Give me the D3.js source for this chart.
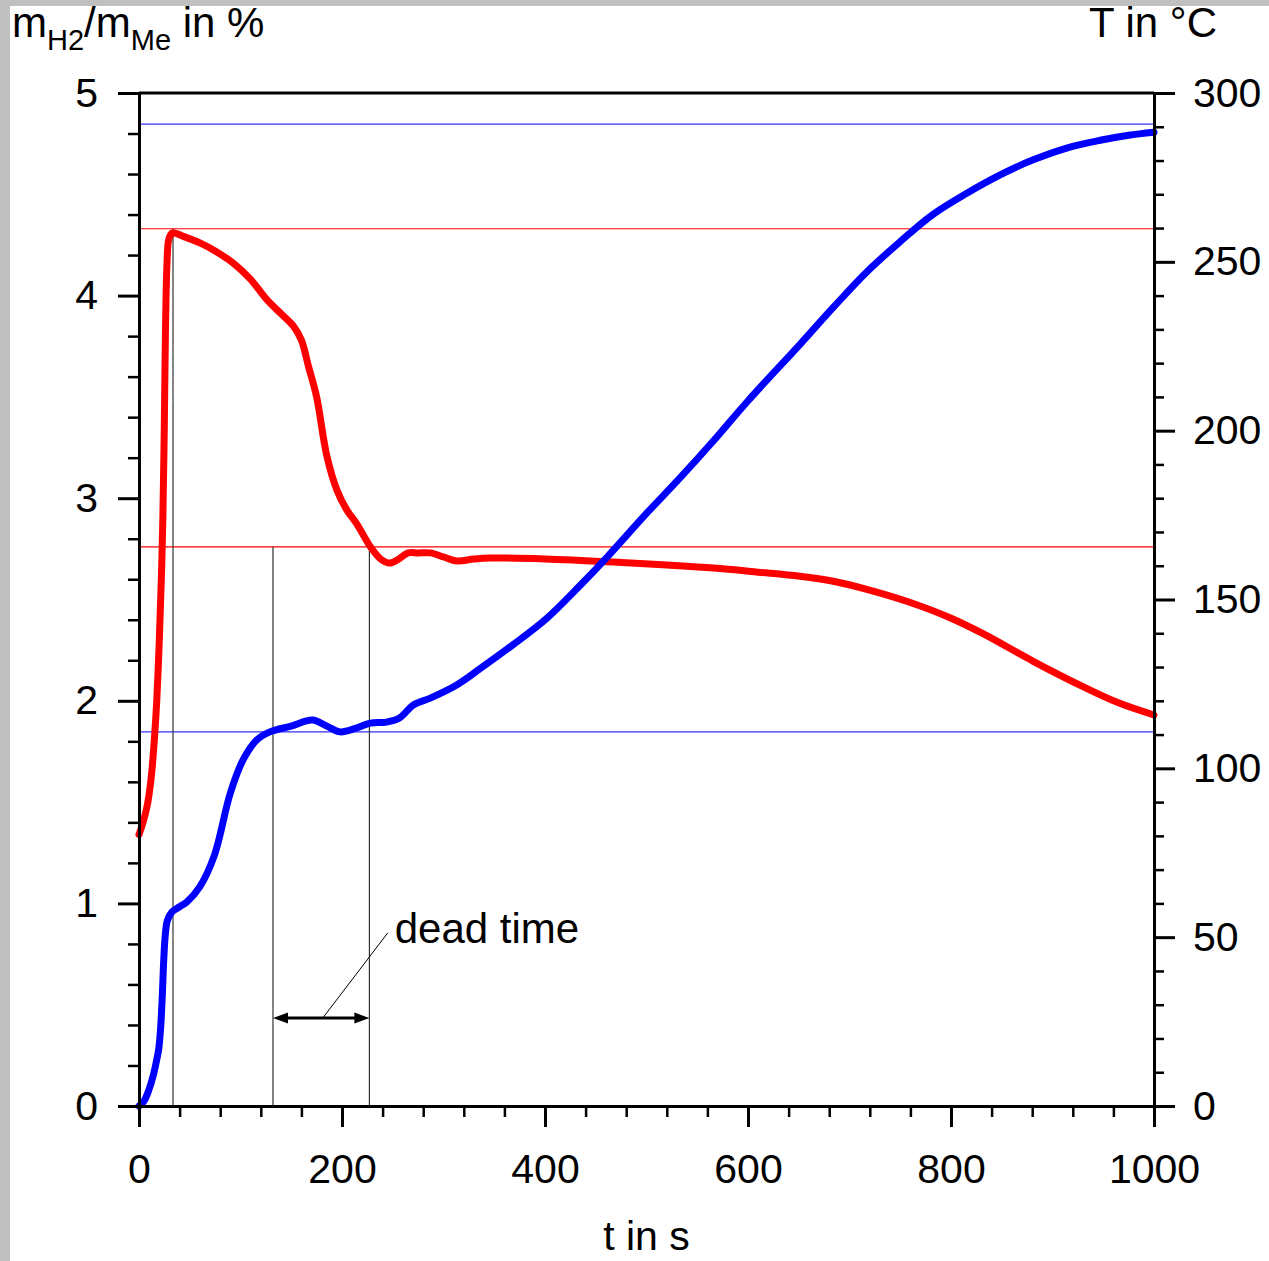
<!DOCTYPE html>
<html>
<head>
<meta charset="utf-8">
<script src="https://cdn.jsdelivr.net/npm/d3@7"></script>
<style>
	body { margin: 0; background: #c0c0c0; }
	svg { display: block; }
	text { font-family: "Liberation Sans", Arial, sans-serif; fill: #000; }
</style>
</head>
<body>
<svg id="chart"></svg>
<script>
// hydrogen loading (left axis, %)
const LOAD_TIME = [0, 4, 8, 12, 15, 17.5, 20, 22, 23.5, 24.8, 26, 27.5, 29, 31, 33, 45, 60, 75, 93, 110, 126, 140, 152, 160, 167, 175, 185, 195, 205, 215, 228, 238, 247, 256, 265, 275, 287, 300, 313, 330, 346, 400, 467, 520, 566, 610, 651, 684, 717, 757, 799, 832, 881, 930, 965, 1000];
const LOAD_VALUE = [1.34, 1.4, 1.48, 1.62, 1.8, 2.0, 2.3, 2.6, 2.9, 3.3, 3.8, 4.15, 4.27, 4.3, 4.31, 4.29, 4.26, 4.22, 4.16, 4.08, 3.98, 3.91, 3.85, 3.78, 3.65, 3.5, 3.21, 3.04, 2.94, 2.87, 2.76, 2.7, 2.68, 2.7, 2.73, 2.73, 2.73, 2.71, 2.69, 2.7, 2.705, 2.7, 2.685, 2.67, 2.655, 2.635, 2.615, 2.59, 2.55, 2.49, 2.41, 2.33, 2.195, 2.07, 1.99, 1.93];

// temperature (right axis, °C)
const TEMP_TIME = [0, 5, 10, 14, 17, 19.5, 21.5, 23, 24.5, 26, 28, 32.5, 40, 47, 60, 74, 90, 102.5, 116, 129, 150, 171, 185, 198, 213, 228, 244, 257, 270, 287, 313, 336, 368, 402, 434, 461, 500, 533, 566, 599, 651, 684, 717, 750, 782, 816, 848, 881, 914, 947, 975, 1000];
const TEMP_VALUE = [0, 1.5, 5, 9, 13, 17, 24, 33, 44, 51, 55, 57.5, 59, 60.4, 65, 74, 92.7, 102.5, 108.4, 110.8, 112.5, 114.3, 112.5, 110.8, 111.8, 113.4, 113.7, 115, 118.7, 120.8, 124.7, 129.5, 136.5, 144.5, 154, 162.5, 175.5, 186, 197, 208.5, 225.5, 236.5, 247, 256, 264, 270.4, 275.7, 280.2, 283.7, 286, 287.5, 288.4];

const X_TICKS = [0, 200, 400, 600, 800, 1000];
const LEFT_TICKS = [0, 1, 2, 3, 4, 5];
const RIGHT_TICKS = [0, 50, 100, 150, 200, 250, 300];

// reference lines and annotation
const REF_LOAD = [4.33, 2.76];
const REF_TEMP = [290.8, 110.8];
const PEAK_TIME = 33.5;
const DEAD_TIME = [132, 227];
const ARROW_LOAD = 0.434;
const LEADER_FROM = [181, 0.434];
const LEADER_TO = [245, 0.854];
const LABEL_POS = [252, 0.805];

const SVG_WIDTH = 1269;
const SVG_HEIGHT = 1261;
const MARGIN = { top: 93, right: 115, bottom: 155, left: 139 };
const WIDTH = SVG_WIDTH - MARGIN.left - MARGIN.right;
const HEIGHT = SVG_HEIGHT - MARGIN.top - MARGIN.bottom;
const FONT = 41;

const x = d3.scaleLinear().domain([0, 1000]).range([0, WIDTH]);
const yL = d3.scaleLinear().domain([0, 5]).range([HEIGHT, 0]);
const yR = d3.scaleLinear().domain([0, 300]).range([HEIGHT, 0]);

const root = d3.select('#chart')
	.attr('width', SVG_WIDTH)
	.attr('height', SVG_HEIGHT);

root.append('rect')
	.attr('width', SVG_WIDTH).attr('height', SVG_HEIGHT)
	.attr('fill', '#c0c0c0');
root.append('rect')
	.attr('x', 10).attr('y', 6)
	.attr('width', SVG_WIDTH - 10).attr('height', SVG_HEIGHT - 6)
	.attr('fill', '#fff');

const svg = root.append('g')
	.attr('transform', 'translate(' + MARGIN.left + ', ' + MARGIN.top + ')');

function minorTicks(step, max, majors) {
	return d3.range(0, max + step / 2, step)
		.map(v => +v.toFixed(4))
		.filter(v => !majors.some(m => Math.abs(m - v) < 1e-6));
}

function styleAxis(g, width) {
	g.select('.domain').attr('stroke', '#000').attr('stroke-width', 3);
	g.selectAll('.tick line').attr('stroke', '#000').attr('stroke-width', width);
	g.selectAll('.tick text')
		.style('font-family', '"Liberation Sans", Arial, sans-serif')
		.style('font-size', FONT + 'px')
		.attr('fill', '#000');
}

// reference lines
svg.selectAll('.ref-load')
	.data(REF_LOAD)
	.enter()
	.append('line')
		.attr('x1', x(0)).attr('x2', x(1000))
		.attr('y1', d => yL(d)).attr('y2', d => yL(d))
		.attr('stroke', '#ff0000')
		.attr('stroke-width', 1.2);

svg.selectAll('.ref-temp')
	.data(REF_TEMP)
	.enter()
	.append('line')
		.attr('x1', x(0)).attr('x2', x(1000))
		.attr('y1', d => yR(d)).attr('y2', d => yR(d))
		.attr('stroke', '#3030ff')
		.attr('stroke-width', 1.2);

// vertical markers
const vlines = [
	{ t: PEAK_TIME, top: REF_LOAD[0] },
	{ t: DEAD_TIME[0], top: REF_LOAD[1] },
	{ t: DEAD_TIME[1], top: REF_LOAD[1] }
];
svg.selectAll('.vline')
	.data(vlines)
	.enter()
	.append('line')
		.attr('x1', d => x(d.t)).attr('x2', d => x(d.t))
		.attr('y1', d => yL(d.top)).attr('y2', yL(0))
		.attr('stroke', '#333')
		.attr('stroke-width', 1.2);

// curves
const loadData = LOAD_TIME.map((t, i) => ({ t: t, v: LOAD_VALUE[i] }));
const tempData = TEMP_TIME.map((t, i) => ({ t: t, v: TEMP_VALUE[i] }));

svg.append('path')
	.attr('fill', 'none')
	.attr('stroke', '#ff0000')
	.attr('stroke-width', 7)
	.attr('stroke-linecap', 'round')
	.attr('stroke-linejoin', 'round')
	.attr('d', d3.line()
		.x(d => x(d.t))
		.y(d => yL(d.v))
		.curve(d3.curveCatmullRom.alpha(0.5))(loadData));

svg.append('path')
	.attr('fill', 'none')
	.attr('stroke', '#0000ff')
	.attr('stroke-width', 7)
	.attr('stroke-linecap', 'round')
	.attr('stroke-linejoin', 'round')
	.attr('d', d3.line()
		.x(d => x(d.t))
		.y(d => yR(d.v))
		.curve(d3.curveCatmullRom.alpha(0.5))(tempData));

// dead time arrow
const ax1 = x(DEAD_TIME[0]), ax2 = x(DEAD_TIME[1]), ay = yL(ARROW_LOAD);
svg.append('line')
	.attr('x1', ax1 + 8).attr('x2', ax2 - 8)
	.attr('y1', ay).attr('y2', ay)
	.attr('stroke', '#000')
	.attr('stroke-width', 3);
svg.append('path')
	.attr('fill', '#000')
	.attr('d', 'M' + ax1 + ',' + ay + 'L' + (ax1 + 15) + ',' + (ay - 5.5) + 'L' + (ax1 + 15) + ',' + (ay + 5.5) + 'Z');
svg.append('path')
	.attr('fill', '#000')
	.attr('d', 'M' + ax2 + ',' + ay + 'L' + (ax2 - 15) + ',' + (ay - 5.5) + 'L' + (ax2 - 15) + ',' + (ay + 5.5) + 'Z');

svg.append('line')
	.attr('x1', x(LEADER_FROM[0])).attr('y1', yL(LEADER_FROM[1]))
	.attr('x2', x(LEADER_TO[0])).attr('y2', yL(LEADER_TO[1]))
	.attr('stroke', '#000')
	.attr('stroke-width', 1);

svg.append('text')
	.attr('x', x(LABEL_POS[0]))
	.attr('y', yL(LABEL_POS[1]))
	.style('font-size', '42px')
	.text('dead time');

// frame top
svg.append('line')
	.attr('x1', 0).attr('x2', WIDTH)
	.attr('y1', 0).attr('y2', 0)
	.attr('stroke', '#000')
	.attr('stroke-width', 3);

// X-Axis
svg.append('g')
	.attr('transform', 'translate(0, ' + HEIGHT + ')')
	.call(d3.axisBottom(x).tickValues(minorTicks(40, 1000, X_TICKS)).tickSize(11).tickSizeOuter(0).tickFormat(''))
	.call(g => styleAxis(g, 2.5));
svg.append('g')
	.attr('transform', 'translate(0, ' + HEIGHT + ')')
	.call(d3.axisBottom(x).tickValues(X_TICKS).tickSize(21).tickPadding(27).tickSizeOuter(0).tickFormat(d3.format('d')))
	.call(g => styleAxis(g, 3));

// left Y-Axis
svg.append('g')
	.call(d3.axisLeft(yL).tickValues(minorTicks(0.2, 5, LEFT_TICKS)).tickSize(11).tickSizeOuter(0).tickFormat(''))
	.call(g => styleAxis(g, 2.5));
svg.append('g')
	.call(d3.axisLeft(yL).tickValues(LEFT_TICKS).tickSize(21).tickPadding(20).tickSizeOuter(0).tickFormat(d3.format('d')))
	.call(g => styleAxis(g, 3));

// right Y-Axis
svg.append('g')
	.attr('transform', 'translate(' + WIDTH + ', 0)')
	.call(d3.axisRight(yR).tickValues(minorTicks(10, 300, RIGHT_TICKS)).tickSize(10).tickSizeOuter(0).tickFormat(''))
	.call(g => styleAxis(g, 2.5));
svg.append('g')
	.attr('transform', 'translate(' + WIDTH + ', 0)')
	.call(d3.axisRight(yR).tickValues(RIGHT_TICKS).tickSize(21).tickPadding(18).tickSizeOuter(0).tickFormat(d3.format('d')))
	.call(g => styleAxis(g, 3));

// titles
const leftTitle = root.append('text')
	.attr('x', 12)
	.attr('y', 37)
	.style('font-size', '42px');
leftTitle.append('tspan').text('m');
leftTitle.append('tspan').attr('dy', 13).style('font-size', '29px').text('H2');
leftTitle.append('tspan').attr('dy', -13).text('/m');
leftTitle.append('tspan').attr('dy', 13).style('font-size', '29px').text('Me');
leftTitle.append('tspan').attr('dy', -13).text(' in %');

root.append('text')
	.attr('x', 1217)
	.attr('y', 37)
	.attr('text-anchor', 'end')
	.style('font-size', '42px')
	.text('T in °C');

root.append('text')
	.attr('x', MARGIN.left + WIDTH / 2)
	.attr('y', 1250)
	.attr('text-anchor', 'middle')
	.style('font-size', FONT + 'px')
	.text('t in s');
</script>
</body>
</html>
